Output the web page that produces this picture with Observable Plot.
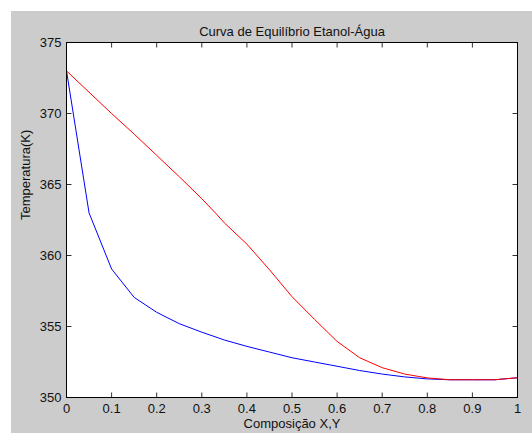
<!DOCTYPE html>
<html>
<head>
<meta charset="utf-8">
<script src="https://cdn.jsdelivr.net/npm/d3@7"></script>
<script src="https://cdn.jsdelivr.net/npm/@observablehq/plot@0.6"></script>
<style>
  html, body { margin: 0; padding: 0; background: #ffffff; }
  #wrap { position: absolute; left: 11px; top: 11px; width: 521px; height: 422px; background: #cccccc; }
</style>
</head>
<body>
<div id="wrap"></div>
<script>
// ---- data ----
const titleText = "Curva de Equilíbrio Etanol-Água";
const xLabelText = "Composição X,Y";
const yLabelText = "Temperatura(K)";

// liquid composition (bubble curve, blue)
const xLiquid = [0, 0.05, 0.1, 0.15, 0.2, 0.25, 0.3, 0.35, 0.4, 0.45, 0.5, 0.55, 0.6, 0.65, 0.7, 0.75, 0.8, 0.85, 0.9, 0.95, 1.0];
const tLiquid = [373.0, 363.0, 359.05, 357.05, 356.0, 355.2, 354.6, 354.05, 353.6, 353.2, 352.8, 352.5, 352.2, 351.9, 351.65, 351.45, 351.31, 351.25, 351.25, 351.25, 351.39];

// vapour composition (dew curve, red)
const xVapor = [0, 0.05, 0.1, 0.15, 0.2, 0.25, 0.3, 0.33, 0.35, 0.4, 0.45, 0.5, 0.55, 0.6, 0.65, 0.7, 0.75, 0.8, 0.85, 0.9, 0.95, 0.97, 1.0];
const tVapor = [373.0, 371.5, 370.0, 368.55, 367.05, 365.55, 364.0, 363.0, 362.3, 360.8, 359.0, 357.1, 355.5, 353.95, 352.8, 352.1, 351.65, 351.38, 351.25, 351.25, 351.25, 351.31, 351.39];

const xTicks = [0, 0.1, 0.2, 0.3, 0.4, 0.5, 0.6, 0.7, 0.8, 0.9, 1];
const xTickLabels = ["0", "0.1", "0.2", "0.3", "0.4", "0.5", "0.6", "0.7", "0.8", "0.9", "1"];
const yTicks = [350, 355, 360, 365, 370, 375];
const yTickLabels = ["350", "355", "360", "365", "370", "375"];
const xDomain = [0, 1];
const yDomain = [350, 375];

// ---- layout ----
const W = 521, H = 422;
const mL = 55, mR = 15, mT = 31, mB = 36;
const frameW = W - mL - mR, frameH = H - mT - mB;
const tickLen = 5;
// tick length expressed in scale units so the stubs go through the scales
const dX = tickLen * (xDomain[1] - xDomain[0]) / frameW;
const dY = tickLen * (yDomain[1] - yDomain[0]) / frameH;

// ---- build tables ----
const liquid = xLiquid.map((x, i) => ({x, t: tLiquid[i]}));
const vapor = xVapor.map((x, i) => ({x, t: tVapor[i]}));
const xFmt = d => xTickLabels[xTicks.indexOf(d)];
const yFmt = d => yTickLabels[yTicks.indexOf(d)];
const tickColor = "#333333";

const chart = Plot.plot({
  width: W,
  height: H,
  marginLeft: mL,
  marginRight: mR,
  marginTop: mT,
  marginBottom: mB,
  style: {background: "transparent", fontFamily: "'Liberation Sans', Arial, sans-serif", fontSize: "13px", color: "#000"},
  x: {domain: xDomain},
  y: {domain: yDomain},
  marks: [
    Plot.frame({fill: "white", stroke: null}),
    // inward tick marks on all four sides
    Plot.link(xTicks, {x1: d => d, x2: d => d, y1: () => yDomain[0], y2: () => yDomain[0] + dY, stroke: tickColor, strokeWidth: 1}),
    Plot.link(xTicks, {x1: d => d, x2: d => d, y1: () => yDomain[1], y2: () => yDomain[1] - dY, stroke: tickColor, strokeWidth: 1}),
    Plot.link(yTicks, {y1: d => d, y2: d => d, x1: () => xDomain[0], x2: () => xDomain[0] + dX, stroke: tickColor, strokeWidth: 1}),
    Plot.link(yTicks, {y1: d => d, y2: d => d, x1: () => xDomain[1], x2: () => xDomain[1] - dX, stroke: tickColor, strokeWidth: 1}),
    // curves
    Plot.line(liquid, {x: "x", y: "t", stroke: "#0000ff", strokeWidth: 1}),
    Plot.line(vapor, {x: "x", y: "t", stroke: "#ff0000", strokeWidth: 1}),
    // tick labels
    Plot.axisX({anchor: "bottom", ticks: xTicks, tickSize: 0, tickPadding: 6, tickFormat: xFmt, label: null, fill: "#111"}),
    Plot.axisY({anchor: "left", ticks: yTicks, tickSize: 0, tickPadding: 5, tickFormat: yFmt, label: null, fill: "#111"}),
    Plot.frame({stroke: "#000", strokeWidth: 1}),
    // titles
    Plot.text([titleText], {frameAnchor: "top", dy: -16, text: d => d, fill: "#111", fontSize: 13}),
    Plot.text([xLabelText], {frameAnchor: "bottom", dy: 30, text: d => d, fill: "#111", fontSize: 13}),
    Plot.text([yLabelText], {frameAnchor: "left", dx: -41, rotate: -90, text: d => d, fill: "#111", fontSize: 13})
  ]
});
document.getElementById("wrap").appendChild(chart);
</script>
</body>
</html>
